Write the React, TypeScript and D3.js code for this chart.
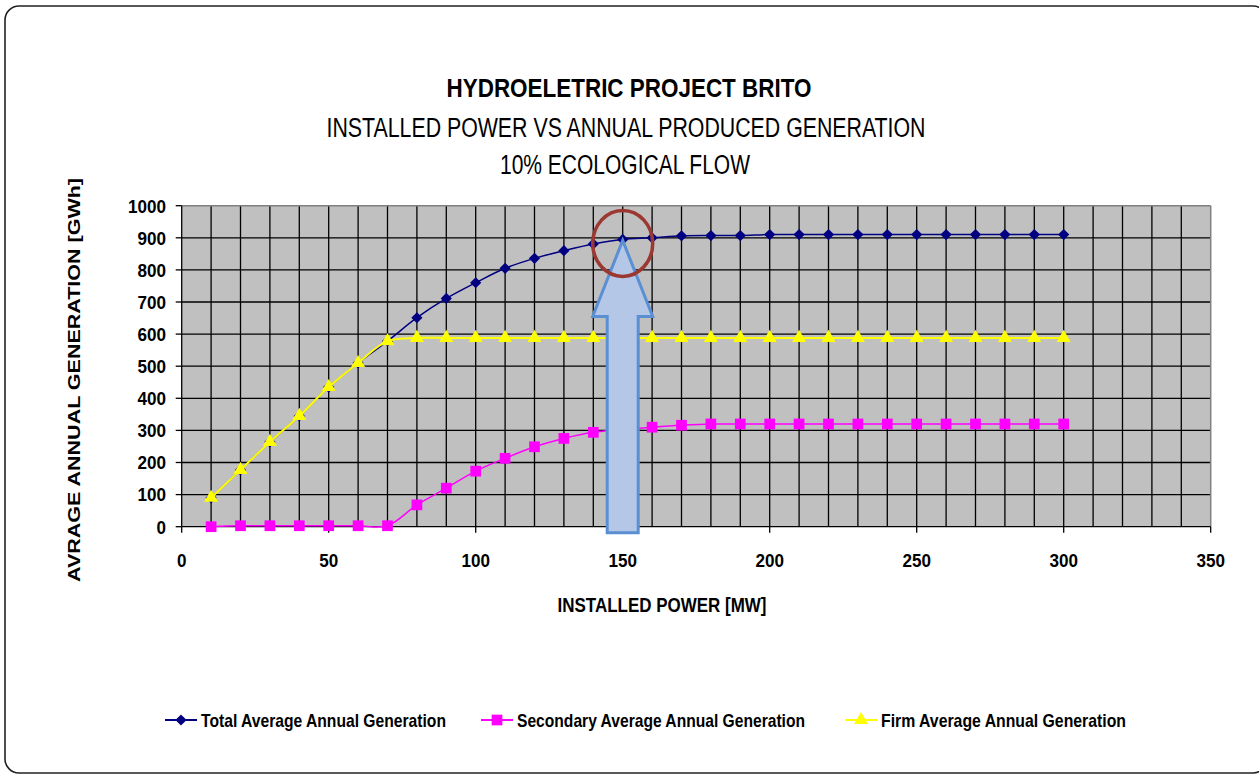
import React from "react";
import * as d3 from "d3";

const powerMW = [10, 20, 30, 40, 50, 60, 70, 80, 90, 100, 110, 120, 130, 140, 150, 160, 170, 180, 190, 200, 210, 220, 230, 240, 250, 260, 270, 280, 290, 300];
const totalGen = [90, 177, 264, 345, 435, 510, 578, 651, 711, 760, 805, 836, 860, 881, 895, 900, 906, 907, 907, 910, 910, 910, 910, 910, 910, 910, 910, 910, 910, 910];
const secondaryGen = [0, 3, 3, 3, 3, 3, 3, 68, 120, 173, 213, 249, 275, 294, 303, 310, 316, 320, 320, 320, 320, 320, 320, 320, 320, 320, 320, 320, 320, 320];
const firmGen = [90, 177, 264, 345, 435, 510, 578, 588, 588, 588, 588, 588, 588, 588, 588, 588, 588, 588, 588, 588, 588, 588, 588, 588, 588, 588, 588, 588, 588, 588];

const xTicks = [0, 50, 100, 150, 200, 250, 300, 350];
const yTicks = [0, 100, 200, 300, 400, 500, 600, 700, 800, 900, 1000];
const xGrid = [10, 20, 30, 40, 50, 60, 70, 80, 90, 100, 110, 120, 130, 140, 150, 160, 170, 180, 190, 200, 210, 220, 230, 240, 250, 260, 270, 280, 290, 300, 310, 320, 330, 340];

const titleLines = ["HYDROELETRIC PROJECT BRITO", "INSTALLED POWER VS  ANNUAL PRODUCED GENERATION", "10% ECOLOGICAL FLOW"];
const xTitle = "INSTALLED POWER [MW]";
const yTitle = "AVRAGE ANNUAL GENERATION [GWh]";
const seriesNames = ["Total Average Annual Generation", "Secondary Average Annual Generation", "Firm Average Annual  Generation"];
const highlightX = 150;

const NARROW = "'Liberation Sans Narrow', 'Arial Narrow', 'Liberation Sans', Arial, sans-serif";
const SANS = "'Liberation Sans', Arial, sans-serif";

export default function App() {
  const W = 1259, H = 776;
  const x = d3.scaleLinear().domain([0, 350]).range([181.7, 1210.7]);
  const y = d3.scaleLinear().domain([0, 1000]).range([526.7, 205.7]);
  const line = (vals: number[]) =>
    d3.line<number>().x((_, i) => x(powerMW[i])).y((v) => y(v)).curve(d3.curveCatmullRom.alpha(0.5))(vals) || "";

  const diamond = d3.symbol().type(d3.symbolDiamond2).size(80)() || "";
  const square = d3.symbol().type(d3.symbolSquare).size(115)() || "";
  const triangle = d3.symbol().type(d3.symbolTriangle).size(85)() || "";

  const hi = powerMW.indexOf(highlightX);
  const ax = x(highlightX);
  const tipY = y(totalGen[hi]) + 1;
  const headY = tipY + 76;
  const botY = y(0) + 6;
  const arrowPath = `M${ax},${tipY} L${ax + 30},${headY} L${ax + 15.5},${headY} L${ax + 15.5},${botY} L${ax - 15.5},${botY} L${ax - 15.5},${headY} L${ax - 30},${headY} Z`;

  const series = [
    { vals: totalGen, color: "#000080", sym: diamond, w: 1.5 },
    { vals: secondaryGen, color: "#ff00ff", sym: square, w: 1.5 },
    { vals: firmGen, color: "#ffff00", sym: triangle, w: 2 },
  ];
  const legendX = [165, 481, 845];
  const legendW = [245, 288, 245];

  const [x0, x1] = x.range();
  const [y0, y1] = y.range();
  const digitW = 9.5;

  return (
    <div style={{ position: "absolute", left: 0, top: 0 }}>
      <svg width={W} height={H} style={{ display: "block", background: "#fff" }}>
        <rect x={5} y={6} width={1262} height={767} rx={14} fill="#fff" stroke="#222" strokeWidth={1.6} />
        <text x={629} y={97} textAnchor="middle" fontFamily={NARROW} fontWeight="bold" fontSize={25} textLength={365} lengthAdjust="spacingAndGlyphs">{titleLines[0]}</text>
        <text x={626} y={137} textAnchor="middle" fontFamily={NARROW} fontSize={27} textLength={599} lengthAdjust="spacingAndGlyphs">{titleLines[1]}</text>
        <text x={625} y={174} textAnchor="middle" fontFamily={NARROW} fontSize={27} textLength={250} lengthAdjust="spacingAndGlyphs">{titleLines[2]}</text>

        <rect x={x0} y={y1} width={x1 - x0} height={y0 - y1} fill="#c0c0c0" />
        {xGrid.map((g) => (
          <line key={"vx" + g} x1={x(g)} x2={x(g)} y1={y1} y2={y0} stroke="#000" strokeWidth={1.3} />
        ))}
        {yTicks.filter((t) => t > 0 && t < 1000).map((t) => (
          <line key={"hy" + t} x1={x0} x2={x1} y1={y(t)} y2={y(t)} stroke="#000" strokeWidth={1.3} />
        ))}
        <line x1={x0} x2={x1} y1={y1} y2={y1} stroke="#808080" strokeWidth={1.5} />
        <line x1={x1} x2={x1} y1={y1} y2={y0} stroke="#808080" strokeWidth={1.5} />
        <line x1={x0} x2={x0} y1={y1} y2={y0} stroke="#000" strokeWidth={1.3} />
        <line x1={x0} x2={x1} y1={y0} y2={y0} stroke="#000" strokeWidth={1.3} />
        {yTicks.map((t) => (
          <g key={"yt" + t}>
            <line x1={x0 - 6} x2={x0} y1={y(t)} y2={y(t)} stroke="#000" strokeWidth={1.3} />
            <text x={166} y={y(t)} dy="0.36em" textAnchor="end" fontFamily={NARROW} fontWeight="bold" fontSize={19} textLength={String(t).length * digitW} lengthAdjust="spacingAndGlyphs">{t}</text>
          </g>
        ))}
        {xTicks.map((t) => (
          <g key={"xt" + t}>
            <line x1={x(t)} x2={x(t)} y1={y0} y2={y0 + 6} stroke="#000" strokeWidth={1.3} />
            <text x={x(t)} y={567} textAnchor="middle" fontFamily={NARROW} fontWeight="bold" fontSize={19} textLength={String(t).length * digitW} lengthAdjust="spacingAndGlyphs">{t}</text>
          </g>
        ))}
        <text x={662} y={612} textAnchor="middle" fontFamily={NARROW} fontWeight="bold" fontSize={20} textLength={209} lengthAdjust="spacingAndGlyphs">{xTitle}</text>
        <text transform={`translate(80,380) rotate(-90)`} textAnchor="middle" fontFamily={SANS} fontWeight="bold" fontSize={17} textLength={404} lengthAdjust="spacingAndGlyphs">{yTitle}</text>

        {series.map((s, si) => (
          <g key={"s" + si}>
            <path d={line(s.vals)} fill="none" stroke={s.color} strokeWidth={s.w} />
            {s.vals.map((v, i) => (
              <path key={i} d={s.sym} transform={`translate(${x(powerMW[i])},${y(v)})`} fill={s.color} />
            ))}
          </g>
        ))}

        <path d={arrowPath} fill="#b4c7e7" stroke="#5b8fd3" strokeWidth={3} strokeLinejoin="miter" />
        <ellipse cx={ax} cy={tipY + 3} rx={30} ry={33} fill="none" stroke="#9b3832" strokeWidth={3.5} />

        {series.map((s, si) => (
          <g key={"lg" + si} transform={`translate(${legendX[si]},720)`}>
            <line x1={0} x2={32} y1={0} y2={0} stroke={s.color} strokeWidth={2} />
            <path d={s.sym} transform="translate(16,0)" fill={s.color} />
            <text x={36} y={0} dy="0.36em" fontFamily={NARROW} fontWeight="bold" fontSize={19} textLength={legendW[si]} lengthAdjust="spacingAndGlyphs">{seriesNames[si]}</text>
          </g>
        ))}
      </svg>
    </div>
  );
}
